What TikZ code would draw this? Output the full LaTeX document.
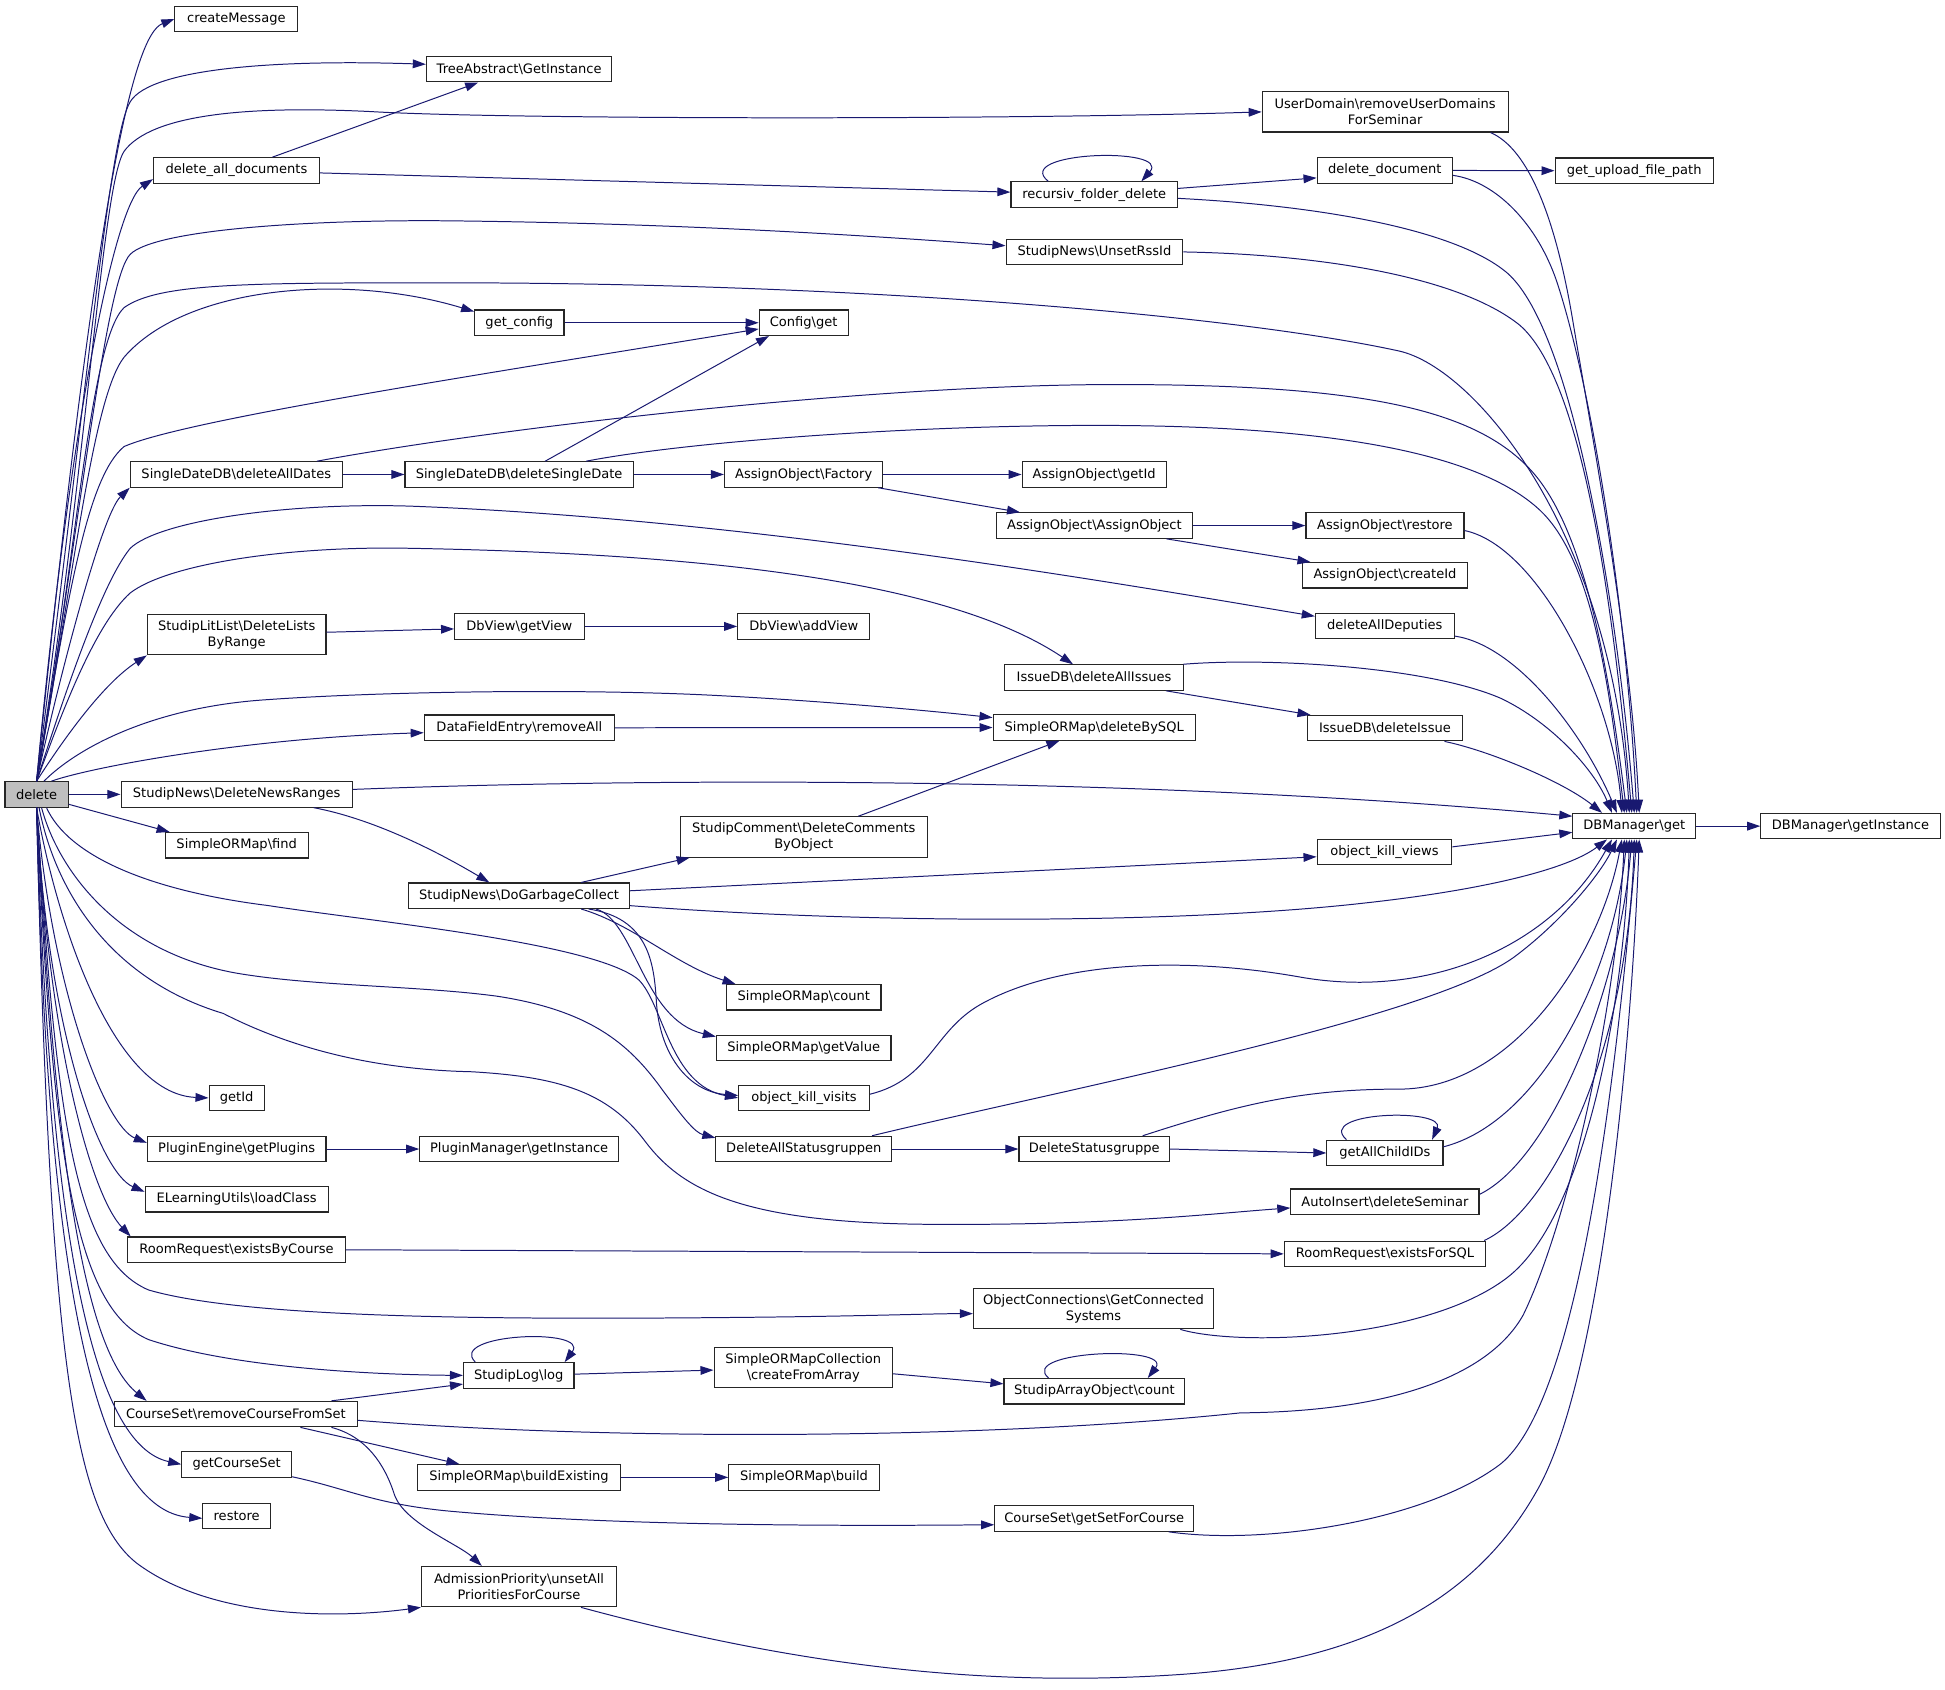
\documentclass[tikz,border=0pt]{standalone}
\usepackage{fontspec}
\setmainfont{DejaVu Sans}
\usetikzlibrary{arrows.meta}
\definecolor{callblue}{RGB}{25,25,112}
\definecolor{rootgray}{RGB}{191,191,191}
\newcommand{\nssep}{\textbackslash}
\tikzset{
fn/.style={draw=black!85, fill=white, line width=0.9pt, inner sep=0pt, minimum height=20.5pt, font=\fontsize{10.5}{13}\selectfont}, % one function of the graph
fn2/.style={fn, align=center, minimum height=32.5pt}, % a name broken over two lines
root/.style={fn, fill=rootgray}, % the function whose calls are shown
call/.style={draw=callblue, line width=0.8pt, -{Triangle[length=10.5pt, width=7pt]}}, % one call
}
\begin{document}
\begin{tikzpicture}[x=1pt, y=-1pt]
\fill[white] (0,0) rectangle (1568,1362.4);
\useasboundingbox (0,0) rectangle (1568,1362.4);

\node[root, minimum width=51pt] (delete) at (29.5,640.4) {delete};
\node[fn, minimum width=99pt] (createmsg) at (190.5,15.3) {createMessage};
\node[fn, minimum width=149.5pt] (treeabs) at (418.5,55.8) {TreeAbstract\nssep GetInstance};
\node[fn2, minimum width=198.3pt] (userdom) at (1116.7,90.2) {UserDomain\nssep removeUserDomains\\ForSeminar};
\node[fn, minimum width=133.6pt] (alldocs) at (190.6,137.4) {delete\_all\_documents};
\node[fn, minimum width=134.2pt] (recursiv) at (882.1,156.9) {recursiv\_folder\_delete};
\node[fn, minimum width=109.2pt] (deldoc) at (1116.4,137.4) {delete\_document};
\node[fn, minimum width=127.5pt] (uploadpath) at (1317.4,137.6) {get\_upload\_file\_path};
\node[fn, minimum width=142.5pt] (rssid) at (882.3,203.1) {StudipNews\nssep UnsetRssId};
\node[fn, minimum width=72pt] (getconfig) at (418.7,260.2) {get\_config};
\node[fn, minimum width=71.7pt] (cfgget) at (647.9,260.2) {Config\nssep get};
\node[fn, minimum width=171pt] (alldates) at (190.5,382.5) {SingleDateDB\nssep deleteAllDates};
\node[fn, minimum width=184pt] (singledate) at (418.5,382.5) {SingleDateDB\nssep deleteSingleDate};
\node[fn, minimum width=127.7pt] (aofactory) at (647.9,382.5) {AssignObject\nssep Factory};
\node[fn, minimum width=116.2pt] (aogetid) at (882.1,382.5) {AssignObject\nssep getId};
\node[fn, minimum width=157.5pt] (aoobject) at (882.3,423.7) {AssignObject\nssep AssignObject};
\node[fn, minimum width=127.4pt] (aorestore) at (1116.5,423.7) {AssignObject\nssep restore};
\node[fn, minimum width=133pt] (aocreateid) at (1116.5,463.8) {AssignObject\nssep createId};
\node[fn2, minimum width=144pt] (litlist) at (190.8,511.7) {StudipLitList\nssep DeleteLists\\ByRange};
\node[fn, minimum width=104.4pt] (getview) at (418.7,505) {DbView\nssep getView};
\node[fn, minimum width=106.5pt] (addview) at (648,505) {DbView\nssep addView};
\node[fn, minimum width=112pt] (deputies) at (1116.4,504.8) {deleteAllDeputies};
\node[fn, minimum width=144pt] (allissues) at (882,546.2) {IssueDB\nssep deleteAllIssues};
\node[fn, minimum width=163pt] (bysql) at (882.1,586.5) {SimpleORMap\nssep deleteBySQL};
\node[fn, minimum width=153.4pt] (removeall) at (418.7,586.7) {DataFieldEntry\nssep removeAll};
\node[fn, minimum width=125pt] (delissue) at (1116.5,587) {IssueDB\nssep deleteIssue};
\node[fn, minimum width=186.4pt] (newsranges) at (190.8,640.4) {StudipNews\nssep DeleteNewsRanges};
\node[fn, minimum width=99pt] (dbget) at (1317.5,666) {DBManager\nssep get};
\node[fn, minimum width=144.6pt] (dbinst) at (1491.8,666) {DBManager\nssep getInstance};
\node[fn, minimum width=115.2pt] (ormfind) at (190.8,681.4) {SimpleORMap\nssep find};
\node[fn2, minimum width=199pt] (comments) at (648,674.7) {StudipComment\nssep DeleteComments\\ByObject};
\node[fn, minimum width=108.6pt] (killviews) at (1116.1,686.7) {object\_kill\_views};
\node[fn, minimum width=178.2pt] (garbage) at (418.5,722.1) {StudipNews\nssep DoGarbageCollect};
\node[fn, minimum width=124.5pt] (ormcount) at (648,804) {SimpleORMap\nssep count};
\node[fn, minimum width=140.7pt] (ormvalue) at (647.9,844.7) {SimpleORMap\nssep getValue};
\node[fn, minimum width=105.5pt] (killvisits) at (648.2,885.1) {object\_kill\_visits};
\node[fn, minimum width=44.5pt] (getid) at (190.8,885.1) {getId};
\node[fn, minimum width=144pt] (plugins) at (190.8,926.3) {PluginEngine\nssep getPlugins};
\node[fn, minimum width=160.2pt] (pluginmgr) at (418.5,926.3) {PluginManager\nssep getInstance};
\node[fn, minimum width=141.7pt] (allgroups) at (648,926.3) {DeleteAllStatusgruppen};
\node[fn, minimum width=121.5pt] (delgroup) at (882.2,926.3) {DeleteStatusgruppe};
\node[fn, minimum width=93.6pt] (childids) at (1116.5,929.5) {getAllChildIDs};
\node[fn, minimum width=147.6pt] (loadclass) at (190.8,966.8) {ELearningUtils\nssep loadClass};
\node[fn, minimum width=151.7pt] (autoinsert) at (1116.5,968.8) {AutoInsert\nssep deleteSeminar};
\node[fn, minimum width=175.8pt] (bycourse) at (190.7,1007.5) {RoomRequest\nssep existsByCourse};
\node[fn, minimum width=162.3pt] (forsql) at (1116.5,1010.8) {RoomRequest\nssep existsForSQL};
\node[fn2, minimum width=193.5pt] (connected) at (881.5,1055) {ObjectConnections\nssep GetConnected\\Systems};
\node[fn, minimum width=89pt] (studiplog) at (418.2,1108.8) {StudipLog\nssep log};
\node[fn2, minimum width=143.9pt] (collection) at (647.6,1102.5) {SimpleORMapCollection\\\nssep createFromArray};
\node[fn, minimum width=145.8pt] (arraycount) at (882.3,1121.6) {StudipArrayObject\nssep count};
\node[fn, minimum width=195.3pt] (fromset) at (190.2,1140) {CourseSet\nssep removeCourseFromSet};
\node[fn, minimum width=88.5pt] (getcourseset) at (190.8,1180.5) {getCourseSet};
\node[fn, minimum width=163.3pt] (buildexisting) at (418.4,1191) {SimpleORMap\nssep buildExisting};
\node[fn, minimum width=121.3pt] (ormbuild) at (648.2,1191) {SimpleORMap\nssep build};
\node[fn, minimum width=54.5pt] (restore) at (190.8,1222) {restore};
\node[fn, minimum width=160.5pt] (setforcourse) at (882.2,1224.2) {CourseSet\nssep getSetForCourse};
\node[fn2, minimum width=157.2pt] (admission) at (418.4,1279.1) {AdmissionPriority\nssep unsetAll\\PrioritiesForCourse};

% calls made by delete, upwards
\draw[call] (delete.north) .. controls (78,150) and (108,28) .. (createmsg.west);
\draw[call] (delete.north) .. controls (72,300) and (88,110) .. (105,82) .. controls (122,54) and (230,48) .. ([yshift=4pt]treeabs.west);
\draw[call] (delete.north) .. controls (70,380) and (82,150) .. (100,122) .. controls (122,92) and (200,85) .. (300,90) .. controls (400,96) and (800,97) .. (userdom.west);
\draw[call] (delete.north) .. controls (55,350) and (92,165) .. ([yshift=-7pt]alldocs.west);
\draw[call] (delete.north) .. controls (65,420) and (85,225) .. (105,205) .. controls (125,185) and (250,177) .. (360,178) .. controls (550,180) and (700,190) .. ([yshift=5pt]rssid.west);
\draw[call] (delete.north) .. controls (62,450) and (72,275) .. (100,248) .. controls (128,228) and (200,228) .. (360,228) .. controls (700,228) and (1000,255) .. (1128,283) .. controls (1190,297) and (1300,430) .. ([xshift=-4pt]dbget.north);
\draw[call] (delete.north) .. controls (60,460) and (75,320) .. (100,288) .. controls (150,230) and (280,220) .. ([yshift=9pt]getconfig.west);
\draw[call] (delete.north) .. controls (55,480) and (70,385) .. (100,360) .. controls (150,338) and (400,300) .. ([yshift=-5pt]cfgget.west);
\draw[call] (delete.north) .. controls (48,545) and (82,415) .. (alldates.south west);
\draw[call] (delete.north) .. controls (52,560) and (82,470) .. (105,442) .. controls (128,420) and (230,405) .. (330,408) .. controls (600,418) and (900,470) .. ([yshift=8pt]deputies.west);
\draw[call] (delete.north) .. controls (48,580) and (75,505) .. (105,478) .. controls (135,455) and (230,440) .. (330,442) .. controls (550,446) and (760,465) .. ([xshift=-17pt]allissues.north);
\draw[call] (delete.north) .. controls (55,590) and (85,550) .. (litlist.south west);
\draw[call] ([xshift=6pt]delete.north) .. controls (60,605) and (120,570) .. (216,564) .. controls (300,558) and (450,555) .. (564,560) .. controls (650,564) and (740,572) .. ([yshift=8pt]bysql.west);
\draw[call] ([xshift=12pt]delete.north) .. controls (75,618) and (200,595) .. ([yshift=-4pt]removeall.west);
\draw[call] (delete.east) -- (newsranges.west);
\draw[call] ([yshift=-8pt]delete.east) -- ([xshift=4pt]ormfind.north west);

% calls made by delete, downwards
\draw[call] ([xshift=8pt]delete.south) .. controls (55,690) and (120,718) .. (216,730) .. controls (300,743) and (480,760) .. (515,790) .. controls (535,810) and (540,875) .. (killvisits.west);
\draw[call] ([xshift=4pt]delete.south) .. controls (48,705) and (100,772) .. (200,786) .. controls (260,795) and (340,795) .. (400,803) .. controls (480,815) and (510,845) .. (535,880) .. controls (550,900) and (560,913) .. ([yshift=9pt]allgroups.west);
\draw[call] ([xshift=2pt]delete.south) .. controls (45,720) and (90,790) .. (180,817) .. controls (225,840) and (290,862) .. (380,864) .. controls (450,868) and (490,880) .. (520,920) .. controls (550,960) and (600,986) .. (750,987) .. controls (900,988) and (980,978) .. ([yshift=-5pt]autoinsert.west);
\draw[call] (delete.south) .. controls (45,740) and (90,882) .. (getid.west);
\draw[call] (delete.south) .. controls (42,800) and (85,908) .. ([yshift=5pt]plugins.west);
\draw[call] (delete.south) .. controls (38,830) and (80,945) .. ([yshift=6pt]loadclass.west);
\draw[call] (delete.south) .. controls (40,850) and (75,965) .. ([xshift=3pt]bycourse.north west);
\draw[call] (delete.south) .. controls (45,900) and (60,1015) .. (120,1040) .. controls (200,1063) and (400,1064) .. (600,1062) .. controls (700,1061) and (750,1059) .. ([yshift=-4pt]connected.west);
\draw[call] (delete.south) .. controls (42,930) and (60,1055) .. (120,1080) .. controls (180,1100) and (280,1108) .. (studiplog.west);
\draw[call] (delete.south) .. controls (45,950) and (70,1090) .. ([xshift=-72pt]fromset.north);
\draw[call] (delete.south) .. controls (40,1000) and (75,1165) .. (getcourseset.west);
\draw[call] (delete.south) .. controls (38,1050) and (80,1218) .. ([yshift=-2pt]restore.west);
\draw[call] (delete.south) .. controls (40,1100) and (60,1220) .. (110,1260) .. controls (170,1305) and (270,1305) .. (admission.south west);

% the other calls
\draw[call] ([xshift=29pt]alldocs.north) -- ([xshift=-33pt]treeabs.south);
\draw[call] ([yshift=-2pt]alldocs.east) -- ([yshift=2pt]recursiv.west);
\draw[call] ([xshift=-37pt]recursiv.north) .. controls (815,122) and (945,118) .. ([xshift=38pt]recursiv.north);
\draw[call] ([yshift=5pt]recursiv.east) -- ([yshift=-6pt]deldoc.west);
\draw[call] ([yshift=-3pt]recursiv.east) .. controls (1050,165) and (1170,182) .. (1215,220) .. controls (1270,268) and (1305,500) .. (dbget.north);
\draw[call] (deldoc.east) -- (uploadpath.west);
\draw[call] ([yshift=-4pt]deldoc.east) .. controls (1205,146) and (1240,180) .. (1256,230) .. controls (1285,320) and (1312,500) .. ([xshift=2pt]dbget.north);
\draw[call] ([xshift=85pt]userdom.south) .. controls (1232,120) and (1254,175) .. (1268,259) .. controls (1285,360) and (1315,520) .. ([xshift=4pt]dbget.north);
\draw[call] (rssid.east) .. controls (1060,205) and (1175,222) .. (1225,262) .. controls (1275,305) and (1300,480) .. ([xshift=-2pt]dbget.north);
\draw[call] (getconfig.east) -- (cfgget.west);
\draw[call] (alldates.east) -- (singledate.west);
\draw[call] ([xshift=65pt]alldates.north) .. controls (400,345) and (700,310) .. (900,310) .. controls (1100,310) and (1190,330) .. (1235,380) .. controls (1280,430) and (1298,550) .. ([xshift=-6pt]dbget.north);
\draw[call] ([xshift=21pt]singledate.north) -- ([xshift=-28pt]cfgget.south);
\draw[call] (singledate.east) -- (aofactory.west);
\draw[call] ([xshift=54pt]singledate.north) .. controls (560,355) and (750,342) .. (900,343) .. controls (1050,344) and (1185,360) .. (1240,410) .. controls (1285,450) and (1298,560) .. ([xshift=-8pt]dbget.north);
\draw[call] (aofactory.east) -- (aogetid.west);
\draw[call] ([xshift=60pt]aofactory.south) -- ([xshift=-60pt]aoobject.north);
\draw[call] (aoobject.east) -- (aorestore.west);
\draw[call] ([xshift=58pt]aoobject.south) -- ([xshift=-60pt]aocreateid.north);
\draw[call] ([yshift=-4pt]aorestore.east) .. controls (1240,440) and (1300,560) .. ([xshift=-10pt]dbget.north);
\draw[call] ([yshift=2pt]litlist.east) -- ([yshift=-2pt]getview.west);
\draw[call] (getview.east) -- (addview.west);
\draw[call] ([yshift=-8pt]deputies.east) .. controls (1222,520) and (1276,590) .. ([xshift=-14pt]dbget.north);
\draw[call] ([xshift=72pt]allissues.north) .. controls (1020,530) and (1150,537) .. (1210,563) .. controls (1250,582) and (1285,620) .. ([xshift=-18pt]dbget.north);
\draw[call] ([xshift=58pt]allissues.south) -- ([xshift=-60pt]delissue.north);
\draw[call] ([xshift=48pt]delissue.south) .. controls (1200,605) and (1260,630) .. ([xshift=-26pt]dbget.north);
\draw[call] (removeall.east) -- (bysql.west);
\draw[call] ([yshift=4pt]newsranges.east) .. controls (500,628) and (900,624) .. ([yshift=8pt]dbget.west);
\draw[call] ([xshift=62pt]newsranges.south) .. controls (300,660) and (350,685) .. ([xshift=-24pt]garbage.north);
\draw[call] ([xshift=50pt]garbage.north) -- ([xshift=-92pt]comments.south);
\draw[call] ([yshift=4pt]garbage.east) -- ([yshift=-4pt]killviews.west);
\draw[call] ([yshift=-8pt]garbage.east) .. controls (700,745) and (950,745) .. (1100,728) .. controls (1200,717) and (1265,700) .. ([xshift=-22pt]dbget.south);
\draw[call] ([xshift=50pt]garbage.south) .. controls (510,745) and (545,778) .. ([xshift=-55pt]ormcount.north);
\draw[call] ([xshift=62pt]garbage.south) .. controls (512,742) and (518,822) .. ([yshift=9pt]ormvalue.west);
\draw[call] ([xshift=56pt]garbage.south) .. controls (522,740) and (527,775) .. (529,805) .. controls (531,850) and (555,880) .. ([yshift=2pt]killvisits.west);
\draw[call] ([xshift=44pt]comments.north) -- ([xshift=-28pt]bysql.south);
\draw[call] ([yshift=4pt]killviews.east) -- ([yshift=-5pt]dbget.west);
\draw[call] ([yshift=3pt]killvisits.east) .. controls (750,870) and (752,832) .. (790,810) .. controls (850,776) and (950,770) .. (1050,788) .. controls (1150,805) and (1250,765) .. ([xshift=-18pt]dbget.south);
\draw[call] (allgroups.east) -- (delgroup.west);
\draw[call] ([xshift=55pt]allgroups.north) .. controls (850,880) and (1150,822) .. (1220,772) .. controls (1258,744) and (1290,705) .. ([xshift=-14pt]dbget.south);
\draw[call] (delgroup.east) -- (childids.west);
\draw[call] ([xshift=39pt]delgroup.north) .. controls (1000,890) and (1050,878) .. (1128,878) .. controls (1220,878) and (1290,770) .. ([xshift=-10pt]dbget.south);
\draw[call] ([xshift=-31pt]childids.north) .. controls (1060,896) and (1166,893) .. ([xshift=38pt]childids.north);
\draw[call] ([yshift=5pt]childids.east) .. controls (1240,905) and (1300,790) .. ([xshift=-6pt]dbget.south);
\draw[call] (plugins.east) -- (pluginmgr.west);
\draw[call] ([yshift=6pt]autoinsert.east) .. controls (1250,935) and (1305,800) .. ([xshift=-2pt]dbget.south);
\draw[call] (bycourse.east) -- (forsql.west);
\draw[call] ([xshift=80pt]forsql.north) .. controls (1250,975) and (1312,850) .. (dbget.south);
\draw[call] ([xshift=70pt]connected.south) .. controls (1000,1086) and (1150,1080) .. (1215,1030) .. controls (1280,980) and (1310,800) .. ([xshift=-4pt]dbget.south);
\draw[call] ([xshift=-35pt]studiplog.north) .. controls (360,1075) and (476,1070) .. ([xshift=37pt]studiplog.north);
\draw[call] ([yshift=1pt]studiplog.east) -- ([yshift=-2pt]collection.west);
\draw[call] ([yshift=-5pt]collection.east) -- ([yshift=6pt]arraycount.west);
\draw[call] ([xshift=-37pt]arraycount.north) .. controls (820,1089) and (946,1084) .. ([xshift=43pt]arraycount.north);
\draw[call] ([xshift=77pt]fromset.north) -- ([yshift=-7pt]studiplog.west);
\draw[call] ([xshift=52pt]fromset.south) -- ([xshift=-48pt]buildexisting.north);
\draw[call] ([xshift=77pt]fromset.south) .. controls (295,1158) and (310,1180) .. (318,1205) .. controls (326,1228) and (370,1245) .. ([xshift=-30pt]admission.north);
\draw[call] ([yshift=-5pt]fromset.east) .. controls (500,1162) and (800,1160) .. (1000,1139) .. controls (1120,1138) and (1200,1110) .. (1228,1060) .. controls (1262,990) and (1303,820) .. ([xshift=-8pt]dbget.south);
\draw[call] (buildexisting.east) -- (ormbuild.west);
\draw[call] ([yshift=-10pt]getcourseset.east) .. controls (280,1200) and (300,1212) .. (360,1218) .. controls (500,1231) and (700,1230) .. ([yshift=-5pt]setforcourse.west);
\draw[call] ([xshift=60pt]setforcourse.south) .. controls (1020,1246) and (1150,1226) .. (1210,1180) .. controls (1270,1130) and (1300,900) .. ([xshift=2pt]dbget.south);
\draw[call] ([xshift=50pt]admission.south) .. controls (650,1345) and (800,1360) .. (950,1350) .. controls (1100,1340) and (1190,1290) .. (1240,1200) .. controls (1290,1110) and (1315,850) .. ([xshift=4pt]dbget.south);
\draw[call] (dbget.east) -- (dbinst.west);
\end{tikzpicture}
\end{document}
